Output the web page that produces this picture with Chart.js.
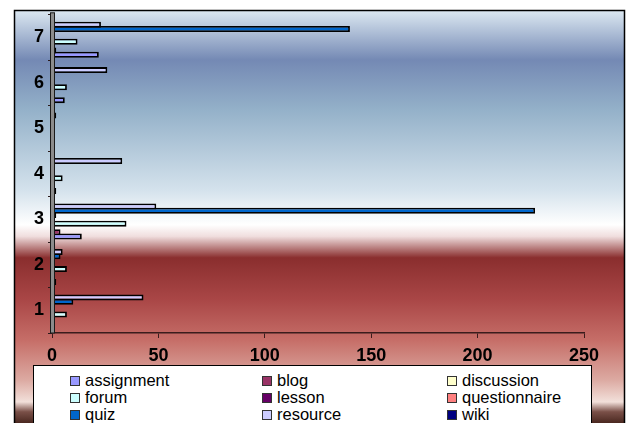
<!DOCTYPE html>
<html>
<head>
<meta charset="utf-8">
<script src="https://cdn.jsdelivr.net/npm/chart.js@4.4.1/dist/chart.umd.min.js"></script>
<style>
  html, body { margin: 0; padding: 0; background: #fff; }
  #wrap { position: relative; width: 627px; height: 423px; overflow: hidden; }
  #chart { position: absolute; left: 0; top: 0; }
  #legend {
    position: absolute; left: 33px; top: 365px; width: 559px; height: 80px;
    background: #fff; border: 1px solid #000; box-sizing: border-box;
    font-family: "Liberation Sans", Arial, sans-serif; font-size: 16.5px; color: #000;
  }
  .item { position: absolute; height: 17px; line-height: 17px; white-space: nowrap; }
  .sw { position: absolute; left: 0; top: 4px; width: 8px; height: 8px; border: 1px solid #333; }
  .txt { position: absolute; left: 15px; top: 0; }
</style>
</head>
<body>
<div id="wrap">
  <canvas id="chart" width="627" height="423"></canvas>
  <div id="legend"></div>
</div>
<script>
// Course module usage per week (1-7)
const categories = ['1', '2', '3', '4', '5', '6', '7'];

const seriesNames = ['assignment', 'blog', 'discussion', 'forum', 'lesson',
                     'questionnaire', 'quiz', 'resource', 'wiki'];

const assignment    = [0, 2, 14, 2, 0, 6, 22];
const blog          = [0, 0, 4, 0, 0, 0, 2];
const discussion    = [0, 0, 0, 0, 0, 0, 0];
const forum         = [7, 7, 35, 5, 0, 7, 12];
const lesson        = [0, 0, 0, 0, 0, 0, 0];
const questionnaire = [0, 0, 2, 0, 0, 0, 0];
const quiz          = [10, 4, 227, 0, 0, 0, 140];
const resource      = [43, 5, 49, 33, 2, 26, 23];
const wiki          = [0, 0, 0, 0, 0, 0, 0];

const xTicks = [0, 50, 100, 150, 200, 250];

const seriesColors = ['#9999FF', '#993366', '#FFFFCC', '#CCFFFF', '#660066',
                      '#FF8080', '#0066CC', '#CCCCFF', '#000080'];

const seriesValues = [assignment, blog, discussion, forum, lesson,
                      questionnaire, quiz, resource, wiki];

// First series sits lowest inside each category group, so datasets are
// handed to the chart last-to-first (dataset 0 is drawn at the top slot).
const datasets = seriesNames.map((name, i) => ({
  label: name,
  data: seriesValues[i],
  backgroundColor: seriesColors[i],
  borderColor: '#000',
  borderWidth: 1.8,
  borderSkipped: false,
  categoryPercentage: 0.85,
  barPercentage: 1.4
})).reverse();

// Frame with the vertical gradient backdrop
const backdrop = {
  id: 'backdrop',
  beforeDraw(chart) {
    const ctx = chart.ctx;
    ctx.save();
    ctx.fillStyle = '#fff';
    ctx.fillRect(0, 0, chart.width, chart.height);
    const g = ctx.createLinearGradient(0, 10, 0, 423);
    g.addColorStop(0.000, '#dde9f2');
    g.addColorStop(0.121, '#7489b4');
    g.addColorStop(0.242, '#94b1c9');
    g.addColorStop(0.436, '#d4e2ec');
    g.addColorStop(0.520, '#ffffff');
    g.addColorStop(0.548, '#f0dede');
    g.addColorStop(0.600, '#8a2e2e');
    g.addColorStop(0.700, '#a94646');
    g.addColorStop(0.800, '#c66e68');
    g.addColorStop(0.896, '#dcaaa2');
    g.addColorStop(0.949, '#f2e0da');
    g.addColorStop(0.973, '#7a5048');
    g.addColorStop(1.000, '#4a2820');
    ctx.fillStyle = g;
    ctx.fillRect(14, 10, 611, 413);
    ctx.strokeStyle = '#000';
    ctx.lineWidth = 1.5;
    ctx.beginPath();
    ctx.moveTo(14.5, 430);
    ctx.lineTo(14.5, 10.5);
    ctx.lineTo(624.5, 10.5);
    ctx.lineTo(624.5, 430);
    ctx.stroke();
    ctx.restore();
  }
};

// Grey category-axis wall on the left of the plot
const axisWall = {
  id: 'axisWall',
  afterDatasetsDraw(chart) {
    const { ctx, chartArea } = chart;
    ctx.save();
    const x = chartArea.left - 1.5;
    ctx.fillStyle = '#8c8c8c';
    ctx.fillRect(x, chartArea.top - 2, 4, chartArea.bottom - chartArea.top + 2);
    ctx.strokeStyle = '#1a1a1a';
    ctx.lineWidth = 1;
    ctx.strokeRect(x, chartArea.top - 2, 4, chartArea.bottom - chartArea.top + 2);
    ctx.restore();
  }
};

const tickFont = { family: '"Liberation Sans", Arial, sans-serif', size: 18, weight: 'bold' };

new Chart(document.getElementById('chart'), {
  type: 'bar',
  data: { labels: categories, datasets },
  options: {
    indexAxis: 'y',
    responsive: false,
    animation: false,
    layout: { padding: { left: 0, top: 14, right: 43, bottom: 0 } },
    plugins: { legend: { display: false }, tooltip: { enabled: false } },
    scales: {
      y: {
        type: 'category',
        reverse: true,
        offset: true,
        border: { display: false },
        grid: { drawOnChartArea: false, drawTicks: true, tickLength: 4, color: '#2a1a1a', lineWidth: 1, offset: true },
        ticks: { font: tickFont, color: '#000', padding: 4 },
        afterFit(scale) { scale.width = 52; }
      },
      x: {
        min: 0,
        max: 250,
        afterBuildTicks(scale) { scale.ticks = xTicks.map(v => ({ value: v })); },
        border: { display: true, color: '#3a1c1c', width: 1.5 },
        grid: { drawOnChartArea: false, drawTicks: true, tickLength: 5, color: '#3a1c1c', lineWidth: 1 },
        ticks: { font: tickFont, color: '#000', padding: 7, maxRotation: 0 },
        afterFit(scale) { scale.height = 90; }
      }
    }
  },
  plugins: [backdrop, axisWall]
});

// Three-column legend in series order
const legend = document.getElementById('legend');
const colX = [36, 228, 413];
seriesNames.forEach((name, i) => {
  const item = document.createElement('div');
  item.className = 'item';
  item.style.left = colX[i % 3] + 'px';
  item.style.top = (6 + Math.floor(i / 3) * 17) + 'px';
  const sw = document.createElement('div');
  sw.className = 'sw';
  sw.style.background = seriesColors[i];
  const t = document.createElement('span');
  t.className = 'txt';
  t.textContent = name;
  item.appendChild(sw);
  item.appendChild(t);
  legend.appendChild(item);
});
</script>
</body>
</html>
